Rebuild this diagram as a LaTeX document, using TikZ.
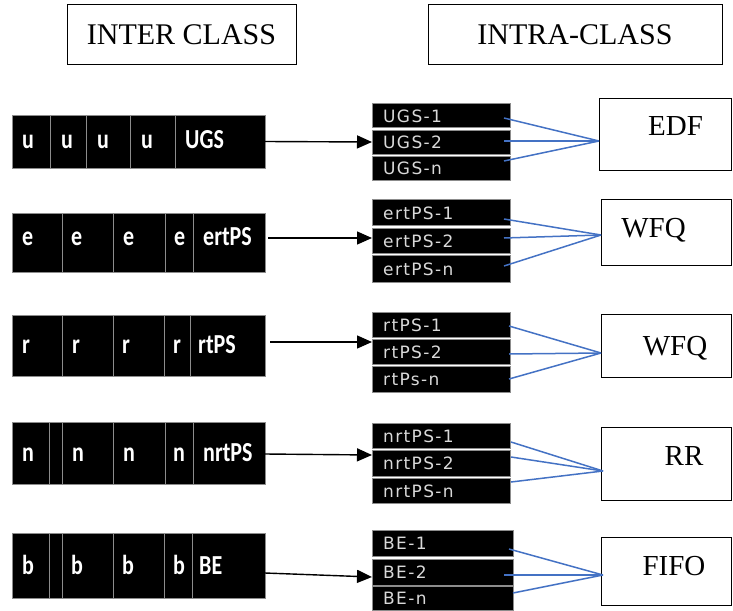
\documentclass[tikz,border=0pt]{standalone}
\usepackage{fontspec}
\usepackage{graphicx}
\setmainfont{Liberation Serif}
\newfontfamily\qfont{Carlito}
\newfontfamily\stackfont[LetterSpace=8]{DejaVu Sans}
\usetikzlibrary{arrows.meta}
\definecolor{linkblue}{HTML}{4472C4}
\definecolor{cellgray}{HTML}{8C8C8C}
\definecolor{stacktext}{HTML}{D9D9D9}
\newcommand{\tall}[1]{\scalebox{1}[1.25]{#1}}

\begin{document}
\begin{tikzpicture}[x=1pt,y=-1pt,
  cell/.style={draw=cellgray, line width=0.8pt, fill=black, anchor=north west,
    inner sep=0pt, outer sep=0pt},
  slot/.style={draw=cellgray, line width=0.8pt, fill=black, anchor=north west,
    inner sep=0pt, outer sep=0pt, minimum width=138pt},
  ctext/.style={anchor=base west, inner sep=0pt, text=white,
    font={\qfont\bfseries\fontsize{22}{26}\selectfont}},
  stext/.style={anchor=base west, inner sep=0pt, text=stacktext,
    font={\stackfont\fontsize{17}{19}\selectfont}},
  hdr/.style={draw=black, line width=1pt, inner sep=0pt,
    font={\fontsize{30}{32}\selectfont}},
  sched/.style={draw=black, line width=1pt, fill=white, anchor=north west,
    inner sep=0pt, outer sep=0pt, minimum width=130pt},
  stitle/.style={anchor=base, inner sep=0pt, font={\fontsize{29}{31}\selectfont}},
  arr/.style={draw=black, line width=1.4pt, -{Triangle[length=15pt,width=13pt]}},
  link/.style={draw=linkblue, line width=1.5pt}
]
\useasboundingbox (0,0) rectangle (733,610);

% headers
\node[hdr, minimum width=229pt, minimum height=60pt] (inter) at (181.5,35) {INTER CLASS};
\node[hdr, minimum width=294pt, minimum height=60pt] (intra) at (575,35) {INTRA-CLASS};

% ---------- inter-class queues ----------
% UGS
\node[cell, minimum width=38pt, minimum height=53pt] (u1) at (12,115) {};
\node[cell, minimum width=36pt, minimum height=53pt] (u2) at (50,115) {};
\node[cell, minimum width=44pt, minimum height=53pt] (u3) at (86,115) {};
\node[cell, minimum width=45pt, minimum height=53pt] (u4) at (130,115) {};
\node[cell, minimum width=90pt, minimum height=53pt] (ugs) at (175,115) {};
\node[ctext] (tu1) at (22,148) {\tall{u}};
\node[ctext] (tu2) at (61,148) {\tall{u}};
\node[ctext] (tu3) at (97,148) {\tall{u}};
\node[ctext] (tu4) at (141,148) {\tall{u}};
\node[ctext] (tugs) at (185,148) {\tall{UGS}};

% ertPS
\node[cell, minimum width=50pt, minimum height=59pt] (e1) at (12,213) {};
\node[cell, minimum width=51pt, minimum height=59pt] (e2) at (62,213) {};
\node[cell, minimum width=52pt, minimum height=59pt] (e3) at (113,213) {};
\node[cell, minimum width=28pt, minimum height=59pt] (e4) at (165,213) {};
\node[cell, minimum width=72pt, minimum height=59pt] (ertps) at (193,213) {};
\node[ctext] (te1) at (22,245) {\tall{e}};
\node[ctext] (te2) at (71,245) {\tall{e}};
\node[ctext] (te3) at (123,245) {\tall{e}};
\node[ctext] (te4) at (174,245) {\tall{e}};
\node[ctext] (tertps) at (203,245) {\tall{ertPS}};

% rtPS
\node[cell, minimum width=50pt, minimum height=61pt] (r1) at (12,315) {};
\node[cell, minimum width=51pt, minimum height=61pt] (r2) at (62,315) {};
\node[cell, minimum width=51pt, minimum height=61pt] (r3) at (113,315) {};
\node[cell, minimum width=26pt, minimum height=61pt] (r4) at (164,315) {};
\node[cell, minimum width=75pt, minimum height=61pt] (rtps) at (190,315) {};
\node[ctext] (tr1) at (22,353) {\tall{r}};
\node[ctext] (tr2) at (72,353) {\tall{r}};
\node[ctext] (tr3) at (122,353) {\tall{r}};
\node[ctext] (tr4) at (173,353) {\tall{r}};
\node[ctext] (trtps) at (198,353) {\tall{rtPS}};

% nrtPS
\node[cell, minimum width=37pt, minimum height=62pt] (n1) at (12,422) {};
\node[cell, minimum width=13pt, minimum height=62pt] (n0) at (49,422) {};
\node[cell, minimum width=51pt, minimum height=62pt] (n2) at (62,422) {};
\node[cell, minimum width=52pt, minimum height=62pt] (n3) at (113,422) {};
\node[cell, minimum width=28pt, minimum height=62pt] (n4) at (165,422) {};
\node[cell, minimum width=72pt, minimum height=62pt] (nrtps) at (193,422) {};
\node[ctext] (tn1) at (22,461) {\tall{n}};
\node[ctext] (tn2) at (72,461) {\tall{n}};
\node[ctext] (tn3) at (123,461) {\tall{n}};
\node[ctext] (tn4) at (173,461) {\tall{n}};
\node[ctext] (tnrtps) at (203,461) {\tall{nrtPS}};

% BE
\node[cell, minimum width=37pt, minimum height=65pt] (b1) at (12,533) {};
\node[cell, minimum width=13pt, minimum height=65pt] (b0) at (49,533) {};
\node[cell, minimum width=51pt, minimum height=65pt] (b2) at (62,533) {};
\node[cell, minimum width=51pt, minimum height=65pt] (b3) at (113,533) {};
\node[cell, minimum width=28pt, minimum height=65pt] (b4) at (164,533) {};
\node[cell, minimum width=73pt, minimum height=65pt] (be) at (192,533) {};
\node[ctext] (tb1) at (22,574) {\tall{b}};
\node[ctext] (tb2) at (71,574) {\tall{b}};
\node[ctext] (tb3) at (122,574) {\tall{b}};
\node[ctext] (tb4) at (173,574) {\tall{b}};
\node[ctext] (tbe) at (199,574) {\tall{BE}};

% ---------- intra-class sub-queues ----------
\node[slot, minimum height=24pt] (ugs1) at (372,103) {};
\node[slot, minimum height=24pt] (ugs2) at (372,130) {};
\node[slot, minimum height=24pt] (ugsn) at (372,156) {};
\node[stext] at (383,122) {UGS-1};
\node[stext] at (383,148) {UGS-2};
\node[stext] at (383,174) {UGS-n};

\node[slot, minimum height=26pt] (ert1) at (372,199) {};
\node[slot, minimum height=25pt] (ert2) at (372,228) {};
\node[slot, minimum height=27pt] (ertn) at (372,255) {};
\node[stext] at (383,219) {ertPS-1};
\node[stext] at (383,247) {ertPS-2};
\node[stext] at (383,275) {ertPS-n};

\node[slot, minimum height=25pt] (rt1) at (372,312) {};
\node[slot, minimum height=25pt] (rt2) at (372,339) {};
\node[slot, minimum height=26pt] (rtn) at (372,366) {};
\node[stext] at (383,331) {rtPS-1};
\node[stext] at (383,358) {rtPS-2};
\node[stext] at (383,385) {rtPs-n};

\node[slot, minimum height=25pt] (nrt1) at (372,423) {};
\node[slot, minimum height=26pt] (nrt2) at (372,450) {};
\node[slot, minimum height=25pt] (nrtn) at (372,478) {};
\node[stext] at (383,442) {nrtPS-1};
\node[stext] at (383,469) {nrtPS-2};
\node[stext] at (383,497) {nrtPS-n};

\node[slot, minimum width=141pt, minimum height=26pt] (be1) at (372,530) {};
\node[slot, minimum width=141pt, minimum height=26pt] (be2) at (372,559) {};
\node[slot, minimum width=141pt, minimum height=24pt] (ben) at (372,586) {};
\node[stext] at (383,549) {BE-1};
\node[stext] at (383,578) {BE-2};
\node[stext] at (383,604) {BE-n};

% ---------- schedulers ----------
\node[sched, minimum width=132pt, minimum height=72pt] (edf) at (599,98) {};
\node[stitle] (tedf) at (675.5,135) {EDF};
\node[sched, minimum height=66pt] (wfqa) at (601,199) {};
\node[stitle] (twfqa) at (653.5,237) {WFQ};
\node[sched, minimum height=63pt] (wfqb) at (601,314) {};
\node[stitle] (twfqb) at (675,355) {WFQ};
\node[sched, minimum height=73pt] (rr) at (601,427) {};
\node[stitle] (trr) at (684,465) {RR};
\node[sched, minimum height=68pt] (fifo) at (601,537) {};
\node[stitle] (tfifo) at (674,575) {FIFO};

% ---------- inter -> intra arrows ----------
\draw[arr] (ugs.east) -- (ugs2.west);
\draw[arr] ([shift={(3pt,4.5pt)}]ertps.east) -- ([shift={(0pt,2.5pt)}]ert2.west);
\draw[arr] ([shift={(5pt,3.5pt)}]rtps.east) -- ([shift={(0pt,9.5pt)}]rt2.west);
\draw[arr] ([shift={(0pt,-1pt)}]nrtps.east) -- ([shift={(0pt,8pt)}]nrt2.west);
\draw[arr] ([shift={(0pt,-7.5pt)}]be.east) -- ([shift={(0pt,-5pt)}]be2.west);

% ---------- sub-queues -> scheduler ----------
\draw[link] ([shift={(-6pt,-3pt)}]ugs1.east) -- ([yshift=-7pt]edf.west);
\draw[link] ([shift={(-6pt,1pt)}]ugs2.east) -- ([yshift=-7pt]edf.west);
\draw[link] ([shift={(-6pt,7pt)}]ugsn.east) -- ([yshift=-7pt]edf.west);

\draw[link] ([shift={(-6pt,-7pt)}]ert1.east) -- ([yshift=-3pt]wfqa.west);
\draw[link] ([shift={(-6pt,2.5pt)}]ert2.east) -- ([yshift=-3pt]wfqa.west);
\draw[link] ([shift={(-6pt,2.5pt)}]ertn.east) -- ([yshift=-3pt]wfqa.west);

\draw[link] ([shift={(-1pt,-1.5pt)}]rt1.east) -- ([yshift=-7.5pt]wfqb.west);
\draw[link] ([shift={(-1pt,-2.5pt)}]rt2.east) -- ([yshift=-7.5pt]wfqb.west);
\draw[link] ([shift={(-1pt,0pt)}]rtn.east) -- ([yshift=-7.5pt]wfqb.west);

\draw[link] ([shift={(1pt,-6.5pt)}]nrt1.east) -- ([shift={(2pt,-7.5pt)}]rr.west);
\draw[link] ([shift={(1pt,6pt)}]nrt2.east) -- ([shift={(2pt,-7.5pt)}]rr.west);
\draw[link] ([shift={(1pt,8.5pt)}]nrtn.east) -- ([shift={(2pt,-7.5pt)}]rr.west);

\draw[link] ([shift={(-4pt,-6pt)}]be1.east) -- ([shift={(2pt,-4pt)}]fifo.west);
\draw[link] ([shift={(-9pt,-3pt)}]be2.east) -- ([shift={(2pt,-4pt)}]fifo.west);
\draw[link] ([shift={(0pt,5pt)}]ben.east) -- ([shift={(2pt,-4pt)}]fifo.west);
\end{tikzpicture}
\end{document}
